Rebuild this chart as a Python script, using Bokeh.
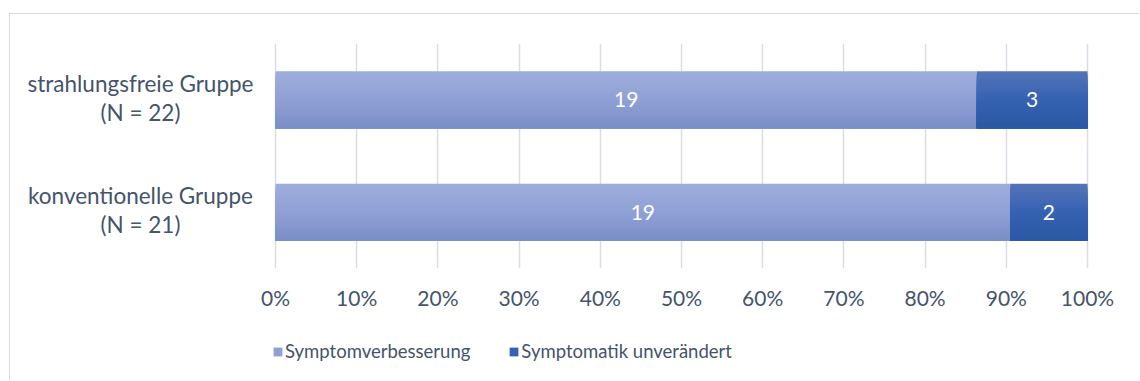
import numpy as np
from bokeh.plotting import figure
from bokeh.layouts import column
from bokeh.models import (ColumnDataSource, FactorRange, Range1d, Legend, LegendItem,
                          LabelSet, NumeralTickFormatter, FixedTicker)
from bokeh.transform import dodge
from bokeh.core.properties import value
from bokeh.embed import file_html
from bokeh.resources import INLINE

# ---- data ----
groups = ["strahlungsfreie Gruppe", "konventionelle Gruppe"]
improved = [19, 19]
unchanged = [3, 2]
series_names = ["Symptomverbesserung", "Symptomatik unverändert"]
x_ticks = [0.0, 0.1, 0.2, 0.3, 0.4, 0.5, 0.6, 0.7, 0.8, 0.9, 1.0]

FONT = "Lato"
TEXT = "#44546a"
FS = "21px"
FS_CAT = "22.5px"
FS_LEG = "18.5px"
BORDER = "1px solid #d9d9d9"

totals = [a + b for a, b in zip(improved, unchanged)]
f_imp = [a / t for a, t in zip(improved, totals)]
f_unc = [b / t for b, t in zip(unchanged, totals)]

# layout constants (pixels in the canvas of the main figure)
W = 1130
X0_PX, X1_PX = 265, 1077          # where 0% and 100% sit
PX = X1_PX - X0_PX
LABEL_X = (130 - X0_PX) / PX      # centre of category labels

src = ColumnDataSource(dict(
    group=groups,
    imp_left=[0.0] * len(groups), imp_right=f_imp,
    unc_left=f_imp, unc_right=[a + b for a, b in zip(f_imp, f_unc)],
    imp_mid=[a / 2 for a in f_imp],
    unc_mid=[a + b / 2 for a, b in zip(f_imp, f_unc)],
    imp_txt=[str(v) for v in improved], unc_txt=[str(v) for v in unchanged],
    cat_line1=groups,
    cat_line2=[f"(N = {t})" for t in totals],
    cat_x=[LABEL_X] * len(groups),
))

p = figure(width=W, height=308, y_range=FactorRange(*groups[::-1]),
           x_range=Range1d(-X0_PX / PX, (W - X0_PX) / PX),
           output_backend="svg", toolbar_location=None,
           min_border_left=0, min_border_right=0, min_border_top=29, min_border_bottom=54,
           margin=(13, 0, 0, 9),
           styles={"border-left": BORDER, "border-top": BORDER})
p.background_fill_color = "white"
p.border_fill_color = "white"
p.outline_line_color = None

# gradient bars: overlapping strips (each reaches the bar bottom) to avoid seams
def hex2rgb(h):
    h = h.lstrip("#")
    return np.array([int(h[i:i + 2], 16) for i in (0, 2, 4)], dtype=float)

def grad(c_top, c_mid, c_bot, t):
    a, b, c = hex2rgb(c_top), hex2rgb(c_mid), hex2rgb(c_bot)
    if t < 0.5:
        r = a + (b - a) * (t / 0.5)
    else:
        r = b + (c - b) * ((t - 0.5) / 0.5)
    return "#%02x%02x%02x" % tuple(int(round(v)) for v in r)

H = 0.505
N = 20
pal = {
    "imp": ("#9eaedb", "#8fa0d6", "#7a8fc6"),
    "unc": ("#5574b8", "#3562b2", "#2b57a5"),
}
for key in ("imp", "unc"):
    for i in range(N):
        t = (i + 0.5) / N
        col = grad(*pal[key], t)
        top = H / 2 - i * H / N
        bot = -H / 2
        p.hbar(y=dodge("group", (top + bot) / 2, range=p.y_range),
               left=key + "_left", right=key + "_right",
               height=top - bot, source=src, fill_color=col, line_color=None)

# data labels
for key in ("imp", "unc"):
    p.add_layout(LabelSet(x=key + "_mid", y="group", text=key + "_txt", source=src,
                          text_align="center", text_baseline="middle", text_color="white",
                          text_font=value(FONT), text_font_size=FS))

# category labels (two lines, each centred)
for col_name, yoff in (("cat_line1", 7.8), ("cat_line2", -21.2)):
    p.add_layout(LabelSet(x="cat_x", y="group", text=col_name, source=src, y_offset=yoff,
                          text_align="center", text_baseline="alphabetic", text_color=TEXT,
                          text_font=value(FONT), text_font_size=FS_CAT))

p.yaxis.visible = False
p.xaxis.ticker = FixedTicker(ticks=x_ticks)
p.xaxis.formatter = NumeralTickFormatter(format="0%")
p.xaxis.axis_line_color = None
p.xaxis.major_tick_line_color = None
p.xaxis.minor_tick_line_color = None
p.xaxis.major_label_standoff = 10
p.xaxis.major_label_text_font = FONT
p.xaxis.major_label_text_font_size = FS
p.xaxis.major_label_text_color = TEXT
p.xgrid.ticker = FixedTicker(ticks=x_ticks)
p.xgrid.grid_line_color = "#dadee4"
p.xgrid.grid_line_width = 1.5
p.ygrid.grid_line_color = None

# legend strip (proxy glyphs kept outside the visible range, only used for the legend)
LH = 59
lf = figure(width=W, height=LH, x_range=Range1d(0, 1), y_range=Range1d(0, 1),
            output_backend="svg", toolbar_location=None,
            min_border_left=0, min_border_right=0, min_border_top=0, min_border_bottom=0,
            margin=(0, 0, 0, 9), styles={"border-left": BORDER})
lf.axis.visible = False
lf.grid.visible = False
lf.outline_line_color = None
lf.background_fill_color = "white"
lf.border_fill_color = "white"
proxy = dict(left=[-3], right=[-2], top=[-2], bottom=[-3])
r1 = lf.quad(**proxy, fill_color=pal["imp"][1], line_color=None)
r2 = lf.quad(**proxy, fill_color=pal["unc"][1], line_color=None)
legend = Legend(items=[LegendItem(label=series_names[0], renderers=[r1]),
                       LegendItem(label=series_names[1], renderers=[r2])],
                orientation="horizontal", location=(262, 18), margin=0, padding=0,
                glyph_width=11, glyph_height=11, label_standoff=2, spacing=38,
                label_text_font=FONT, label_text_font_size=FS_LEG, label_text_color=TEXT,
                background_fill_alpha=0, border_line_color=None)
lf.add_layout(legend, "center")

page = column(p, lf, spacing=0)
open("out.html", "w").write(file_html(page, INLINE))
